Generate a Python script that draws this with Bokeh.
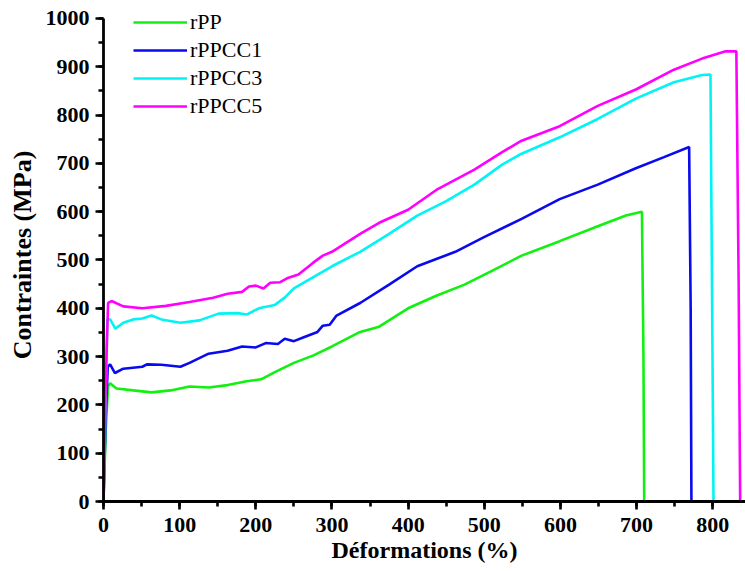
from bokeh.plotting import figure
from bokeh.models import Range1d, SingleIntervalTicker, Legend, LegendItem
from bokeh.embed import file_html
from bokeh.resources import INLINE

# ---- data ----
rpp_x = [0, 3, 6, 8.7, 17, 39, 63, 88, 113, 138, 163, 188, 207, 225, 250, 275, 300, 337, 362,
         400, 437, 474, 512, 549, 599, 649, 686, 707, 709, 710]
rpp_y = [0, 150, 238, 245, 234, 230, 226, 230, 238, 236, 241, 249, 253, 268, 287, 302, 321, 351, 362,
         400, 426, 449, 479, 509, 539, 570, 592, 600, 300, 0]

c1_x = [0, 3, 5.6, 8.7, 15, 26, 51, 57, 76, 101, 113, 138, 163, 182, 200, 213, 229, 238, 250, 263,
        281, 288, 297, 306, 337, 375, 412, 437, 462, 499, 549, 599, 649, 699, 736, 769, 771, 772]
c1_y = [0, 180, 279, 284, 266, 275, 279, 284, 283, 279, 287, 306, 312, 321, 319, 328, 326, 337, 332, 340,
        351, 364, 366, 385, 411, 449, 487, 502, 517, 547, 585, 626, 656, 690, 713, 734, 400, 0]

c3_x = [0, 3, 5, 8.7, 15.6, 26, 39, 51, 63, 76, 101, 126, 151, 176, 188, 204, 225, 238, 250, 275,
        300, 337, 375, 412, 450, 487, 524, 549, 599, 649, 699, 749, 786, 797, 799, 801]
c3_y = [0, 220, 377, 377, 358, 370, 377, 379, 385, 377, 370, 375, 389, 390, 387, 400, 407, 422, 441, 464,
        487, 517, 554, 592, 622, 656, 698, 720, 754, 792, 834, 868, 883, 884, 450, 0]

c5_x = [0, 3, 6, 10.6, 26, 51, 82, 113, 144, 163, 182, 191, 200, 210, 219, 232, 241, 256, 275, 288,
        300, 337, 362, 400, 437, 487, 524, 549, 599, 649, 699, 749, 786, 817, 831, 834, 836]
c5_y = [0, 250, 411, 415, 404, 400, 405, 413, 422, 430, 434, 445, 447, 441, 453, 454, 462, 470, 494, 509,
        517, 554, 577, 604, 645, 687, 724, 747, 777, 819, 853, 894, 917, 932, 932, 450, 0]

names = ["rPP", "rPPCC1", "rPPCC3", "rPPCC5"]
colors = ["#11f011", "#0a0aee", "#00f4f4", "#ff00ff"]
series = [(rpp_x, rpp_y), (c1_x, c1_y), (c3_x, c3_y), (c5_x, c5_y)]

x_ticks_interval = 100
y_ticks_interval = 100
y_axis_bounds = (0, 1000)

FONT = "'Times New Roman', 'Liberation Serif', serif"

p = figure(width=745, height=571, output_backend="svg", toolbar_location=None,
           x_range=Range1d(0, 843), y_range=Range1d(0, 1020.7),
           min_border_left=103, min_border_right=0, min_border_top=8, min_border_bottom=70)
p.outline_line_color = None
p.grid.visible = False
p.background_fill_color = "white"

renderers = []
for (xs, ys), c in zip(series, colors):
    r = p.line(xs, ys, line_color=c, line_width=2.6)
    renderers.append(r)

for ax, interval in ((p.xaxis[0], x_ticks_interval), (p.yaxis[0], y_ticks_interval)):
    ax.ticker = SingleIntervalTicker(interval=interval, num_minor_ticks=2)
    ax.axis_line_width = 2.8
    ax.axis_line_color = "black"
    ax.major_tick_line_width = 2.6
    ax.minor_tick_line_width = 2.6
    ax.major_tick_in = 0
    ax.major_tick_out = 8
    ax.minor_tick_in = 0
    ax.minor_tick_out = 5
    ax.major_label_text_font = FONT
    ax.major_label_text_font_style = "bold"
    ax.major_label_text_font_size = "22px"
    ax.major_label_text_color = "black"
    ax.axis_label_text_font = FONT
    ax.axis_label_text_font_style = "bold"
    ax.axis_label_text_color = "black"

p.yaxis[0].bounds = y_axis_bounds
p.xaxis.axis_label = "Déformations (%)"
p.yaxis.axis_label = "Contraintes (MPa)"
p.xaxis.axis_label_text_font_size = "24px"
p.yaxis.axis_label_text_font_size = "26px"
p.xaxis.major_label_standoff = 8
p.yaxis.major_label_standoff = 6
p.xaxis.axis_label_standoff = 2
p.yaxis.axis_label_standoff = 6

legend = Legend(items=[LegendItem(label=n, renderers=[r]) for n, r in zip(names, renderers)],
                location=(30, 381))
legend.border_line_color = None
legend.background_fill_alpha = 0
legend.label_text_font = FONT
legend.label_text_font_size = "22px"
legend.label_text_color = "black"
legend.glyph_width = 54
legend.glyph_height = 28
legend.label_height = 28
legend.label_standoff = 3
legend.spacing = 0
legend.padding = 0
legend.margin = 0
p.add_layout(legend, "center")

open("out.html", "w").write(file_html(p, INLINE))
